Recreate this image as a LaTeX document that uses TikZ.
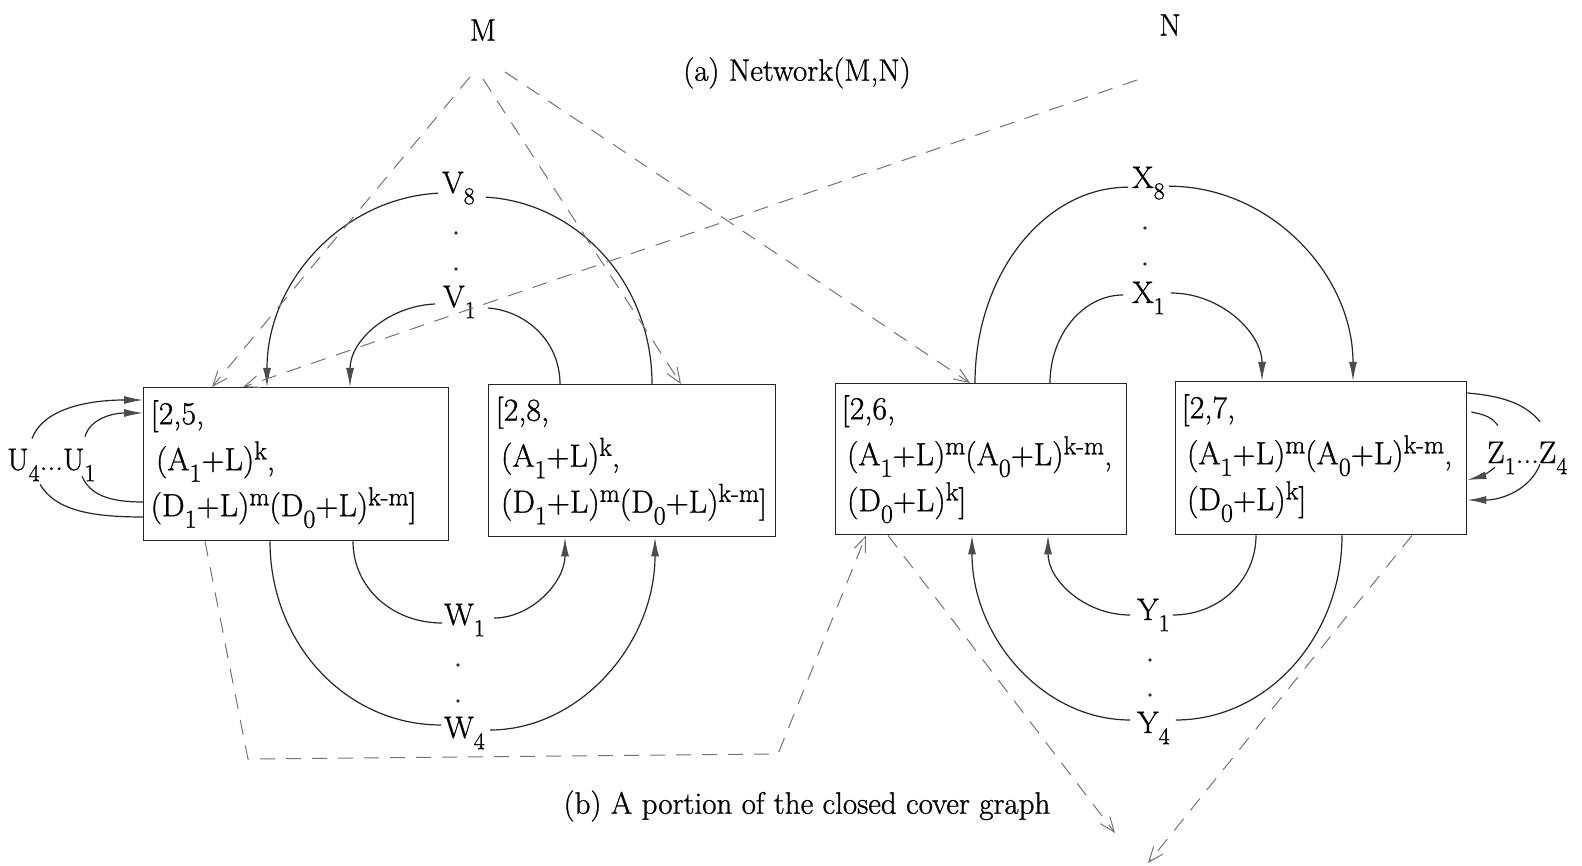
\documentclass[tikz,border=0pt]{standalone}
\usepackage{fontspec}
\setmainfont{Latin Modern Roman}[FakeBold=0.9]
\usetikzlibrary{arrows.meta,calc}
\newcommand\subsz{24}
\newcommand\dn[1]{\raisebox{-0.36em}{\fontsize{\subsz}{\subsz}\selectfont #1}}
\newcommand\up[1]{\raisebox{0.34em}{\fontsize{\subsz}{\subsz}\selectfont #1}}
\begin{document}
\begin{tikzpicture}[x=1pt,y=-1pt,
  every node/.style={font=\fontsize{31}{46}\selectfont, inner sep=0pt},
  box/.style={draw=black!85, line width=1.4pt, anchor=north west, align=left, inner xsep=7pt, inner ysep=0pt,
    font=\fontsize{32}{46}\selectfont\renewcommand\subsz{26}},
  lab/.style={anchor=base west},
  arc/.style={line width=1.2pt, draw=black!85},
  arr/.style={arc, -{Latex[length=19pt,width=8pt,color=black!70]}},
  dsh/.style={line width=1pt, draw=black!55, dash pattern=on 15pt off 11pt},
  darr/.style={dsh, -{Straight Barb[length=15pt,width=12pt,line width=1pt]}},
  dotmark/.style={fill=black!80}
]
\useasboundingbox (0,0) rectangle (1582,866);

% boxes
\node[box, text width=291pt, minimum width=305pt, minimum height=153pt] (b5) at (143,387)
  {[2,5,\\\,(A\dn{1}+L)\up{k},\\(D\dn{1}+L)\up{m}(D\dn{0}+L)\up{k-m}]};
\node[box, text width=273pt, minimum width=287pt, minimum height=152pt] (b8) at (488,384)
  {[2,8,\\\,(A\dn{1}+L)\up{k},\\\,(D\dn{1}+L)\up{m}(D\dn{0}+L)\up{k-m}]};
\node[box, text width=279pt, minimum width=291pt, minimum height=151pt, inner xsep=6pt] (b6) at (835,383)
  {[2,6,\\\,(A\dn{1}+L)\up{m}(A\dn{0}+L)\up{k-m},\\\,(D\dn{0}+L)\up{k}]};
\node[box, text width=279pt, minimum width=291pt, minimum height=153pt, inner xsep=6pt] (b7) at (1175,381)
  {[2,7,\\\,(A\dn{1}+L)\up{m}(A\dn{0}+L)\up{k-m},\\\,(D\dn{0}+L)\up{k}]};

% labels
\node (M) at (483,30) {M};
\node (N) at (1170,25) {N};
\node (capa) at (797,73) {(a) Network(M,N)};
\node (capb) at (807,806) {(b) A portion of the closed cover graph};

\node[lab] (V8) at (442,193) {V\dn{8}};
\node[lab] (V1) at (443,307) {V\dn{1}};
\node[lab] (X8) at (1132,188) {X\dn{8}};
\node[lab] (X1) at (1132,303) {X\dn{1}};
\node[lab] (W1) at (444,625) {W\dn{1}};
\node[lab] (W4) at (444,738) {W\dn{4}};
\node[lab] (Y1) at (1137,620) {Y\dn{1}};
\node[lab] (Y4) at (1137,733) {Y\dn{4}};
\node[lab] (U) at (7,470) {U\dn{4}...U\dn{1}};
\node[lab] (Z) at (1487,463) {Z\dn{1}...Z\dn{4}};

% vertical dots
\fill[dotmark] (456,233) circle (1.8) (456,269) circle (1.8);
\fill[dotmark] (1145,228) circle (1.8) (1145,264) circle (1.8);
\fill[dotmark] (458,665) circle (1.8) (458,701) circle (1.8);
\fill[dotmark] (1150,660) circle (1.8) (1150,695) circle (1.8);

% V arcs
\draw[arr] ($(V8.west)+(-4,5)$) .. controls +(-94,5) and +(0,-107) .. ($(b5.north west)+(124,0)$);
\draw[arc] ($(V8.east)+(11,9)$) .. controls +(90,5) and +(0,-103) .. ($(b8.north west)+(164,0)$);
\draw[arr] ($(V1.west)+(-8,2)$) .. controls +(-47,2) and +(0,-46) .. ($(b5.north west)+(207,0)$);
\draw[arc] ($(V1.east)+(12,6)$) .. controls +(39,3) and +(0,-42) .. ($(b8.north west)+(72,0)$);

% W arcs
\draw[arc] ($(b5.south west)+(210,0)$) .. controls +(0,46) and +(-50,0) .. ($(W1.west)+(-2,3)$);
\draw[arr] ($(W1.east)+(9,-2)$) .. controls +(37,0) and +(0,45) .. ($(b8.south west)+(77,0)$);
\draw[arc] ($(b5.south west)+(127,0)$) .. controls +(0,102) and +(-95,0) .. ($(W4.west)+(-3,-8)$);
\draw[arr] ($(W4.east)+(5,-3)$) .. controls +(89,0) and +(0,107) .. ($(b8.south west)+(167,0)$);

% X arcs
\draw[arc] ($(b6.north west)+(140,0)$) .. controls +(0,-108) and +(-84,0) .. ($(X8.west)+(-4,4)$);
\draw[arr] ($(X8.east)+(4,3)$) .. controls +(101,0) and +(0,-107) .. ($(b7.north west)+(178,0)$);
\draw[arc] ($(b6.north west)+(215,0)$) .. controls +(0,-48) and +(-40,0) .. ($(X1.west)+(-9,-3)$);
\draw[arr] ($(X1.east)+(6,-5)$) .. controls +(50,0) and +(0,-48) .. ($(b7.north west)+(87,0)$);

% Y arcs
\draw[arr] ($(Y1.west)+(-7,0)$) .. controls +(-45,0) and +(0,45) .. ($(b6.south west)+(213,0)$);
\draw[arc] ($(b7.south west)+(81,0)$) .. controls +(0,45) and +(46,0) .. ($(Y1.east)+(3,0)$);
\draw[arr] ($(Y4.west)+(-7,-8)$) .. controls +(-87,0) and +(0,102) .. ($(b6.south west)+(137,0)$);
\draw[arc] ($(b7.south west)+(167,0)$) .. controls +(0,102) and +(91,0) .. ($(Y4.east)+(6,-8)$);

% U loops
\draw[arr] ($(U.north west)+(25,-10)$) .. controls +(12,-32) and +(-50,0) .. ($(b5.north west)+(0,13)$);
\draw[arr] ($(U.north west)+(78,-12)$) .. controls +(5,-18) and +(-30,0) .. ($(b5.north west)+(0,26)$);
\draw[arc] ($(b5.north west)+(0,115)$) .. controls +(-35,0) and +(8,18) .. ($(U.south west)+(75,-5)$);
\draw[arc] ($(b5.north west)+(0,130)$) .. controls +(-55,0) and +(15,25) .. ($(U.south west)+(33,3)$);

% Z loops
\draw[arc] ($(b7.north east)+(0,12)$) .. controls +(35,3) and +(-15,-18) .. ($(Z.north west)+(53,-20)$);
\draw[arc] ($(b7.north east)+(4,31)$) .. controls +(15,3) and +(-6,-8) .. ($(Z.north west)+(11,-16)$);
\draw[arr] ($(Z.south west)+(8,-7)$) .. controls +(-10,8) and +(12,-3) .. ($(b7.north east)+(0,99)$);
\draw[arr] ($(Z.south west)+(53,-10)$) .. controls +(-10,25) and +(35,0) .. ($(b7.north east)+(0,119)$);

% dashed connectors
\coordinate (m1) at (470,77);
\coordinate (m2) at (483,79);
\coordinate (m3) at (505,72);
\coordinate (n1) at (1137,80);
\coordinate (k1) at (248,759);
\coordinate (k2) at (778,754);
\coordinate (e1) at (1115,833);
\coordinate (e2) at (1148,863);

\draw[darr] (m1) -- ($(b5.north west)+(69,0)$);
\draw[darr] (m2) -- ($(b8.north west)+(193,0)$);
\draw[darr] (m3) -- ($(b6.north west)+(135,0)$);
\draw[darr] (n1) -- ($(b5.north west)+(100,0)$);
\draw[darr] ($(b5.south west)+(62,0)$) -- (k1) -- (k2) -- ($(b6.south west)+(31,0)$);
\draw[darr] ($(b6.south west)+(53,0)$) -- (e1);
\draw[darr] ($(b7.south west)+(237,0)$) -- (e2);
\end{tikzpicture}
\end{document}
